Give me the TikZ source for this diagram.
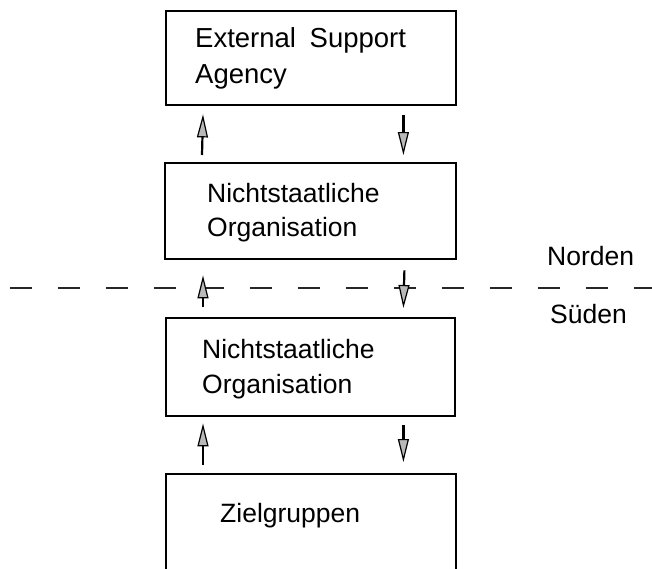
\documentclass[tikz,border=0pt]{standalone}
\usepackage{fontspec}
\setmainfont{Liberation Sans}
\usetikzlibrary{arrows.meta,calc}
\begin{document}
\begin{tikzpicture}[x=1pt,y=-1pt,
  box/.style={draw, line width=2.4pt, inner sep=0pt, anchor=north west},
  lbl/.style={anchor=base west, align=left, inner sep=0pt,
    font=\fontsize{26.5}{35}\selectfont},
  flow/.style={line width=2.2pt,
    -{Triangle[length=23pt,width=11pt,fill=gray!55,line width=1.2pt]}},
  border/.style={line width=2pt, black!85, dash pattern=on 22pt off 26pt}
]
\useasboundingbox (0,0) rectangle (652,568);
\clip (0,0) rectangle (652,568);

% boxes
\node[box, minimum width=290pt, minimum height=94pt] (esa) at (165,10) {};
\node[box, minimum width=291pt, minimum height=96pt] (ngoN) at (164,162) {};
\node[box, minimum width=289pt, minimum height=98pt] (ngoS) at (165,317) {};
\node[box, minimum width=290pt, minimum height=110pt] (ziel) at (165,473) {};

% texts (anchored at the baseline of their last line)
\node[lbl, font=\fontsize{27.5}{36}\selectfont] (tesa) at (195,83) {External\hspace{6pt} Support\\Agency};
\node[lbl, font=\fontsize{26.5}{34}\selectfont] (tngoN) at (207,236) {Nichtstaatliche\\Organisation};
\node[lbl] (tngoS) at (202,393) {Nichtstaatliche\\Organisation};
\node[lbl] (tziel) at (220,522) {Zielgruppen};
\node[lbl] (nord) at (547,265) {Norden};
\node[lbl] (sued) at (550,323) {Süden};

% north/south border
\coordinate (bw) at (10,288);
\coordinate (be) at (660,288);
\draw[border] (bw) -- (be);

% flows between the levels
\draw[flow] ($(ngoN.north west)+(38,-7)$) -- ($(esa.south west)+(38,8)$);
\draw[flow] ($(esa.south east)+(-54,9)$) -- ($(ngoN.north east)+(-54,-7)$);
\draw[flow] ($(ngoS.north west)+(38,-10)$) -- ($(ngoN.south west)+(39,15)$);
\draw[flow] ($(ngoN.south east)+(-53,10)$) -- ($(ngoS.north east)+(-53,-9)$);
\draw[flow] ($(ziel.north west)+(38,-8)$) -- ($(ngoS.south west)+(38,6)$);
\draw[flow] ($(ngoS.south east)+(-53,8)$) -- ($(ziel.north east)+(-54,-11)$);
\end{tikzpicture}
\end{document}
